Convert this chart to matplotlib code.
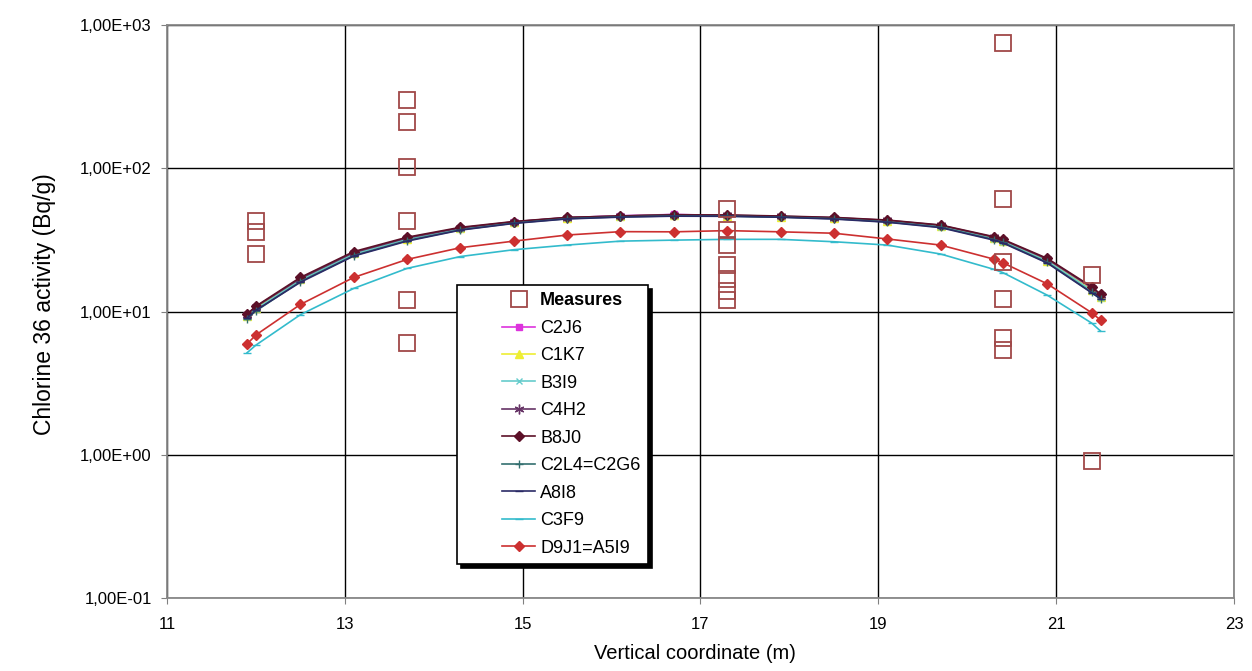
import numpy as np
import matplotlib
matplotlib.use("Agg")
import matplotlib.pyplot as plt
from matplotlib.lines import Line2D
from matplotlib.legend_handler import HandlerLine2D
from matplotlib.ticker import FixedLocator, FuncFormatter

plt.rcParams["font.family"] = ["Liberation Sans", "DejaVu Sans"]

# measured activities (Bq/g) at each vertical coordinate
meas_x = [12.0, 12.0, 12.0,
          13.7, 13.7, 13.7, 13.7, 13.7, 13.7,
          17.3, 17.3, 17.3, 17.3, 17.3, 17.3, 17.3,
          20.4, 20.4, 20.4, 20.4, 20.4, 20.4,
          21.4, 21.4]
meas_y = [42.8, 35.9, 25.2,
          299, 210, 102, 42.6, 12.0, 6.0,
          52, 37, 29, 21, 17, 14, 12,
          748, 60.7, 22.3, 12.2, 6.5, 5.4,
          18.0, 0.90]

# model calculations
x_model = [11.9, 12.0, 12.5, 13.1, 13.7, 14.3, 14.9, 15.5, 16.1, 16.7,
           17.3, 17.9, 18.5, 19.1, 19.7, 20.3, 20.4, 20.9, 21.4, 21.5]

C2J6 = [9.4, 10.7, 16.9, 25.6, 32.4, 38.2, 42.2, 45.2, 46.6, 47.6,
        46.8, 46.0, 45.0, 43.0, 39.6, 32.6, 31.2, 22.8, 14.4, 12.8]
C1K7 = [9.3, 10.6, 16.8, 25.5, 32.3, 38.0, 42.0, 45.0, 46.3, 47.3,
        46.6, 45.8, 44.8, 42.8, 39.4, 32.4, 31.0, 22.6, 14.2, 12.6]
B3I9 = [9.2, 10.4, 16.6, 25.2, 32.0, 37.8, 41.8, 44.8, 46.0, 46.8,
        46.5, 45.7, 44.8, 42.6, 39.2, 32.2, 30.8, 22.5, 14.0, 12.5]
C4H2 = [9.5, 10.8, 17.0, 25.8, 32.6, 38.3, 42.3, 45.3, 46.5, 47.5,
        47.0, 46.2, 45.2, 43.3, 40.0, 33.0, 31.6, 23.2, 14.7, 13.0]
B8J0 = [9.6, 10.9, 17.3, 26.2, 33.0, 38.7, 42.5, 45.4, 46.4, 47.2,
        47.2, 46.4, 45.4, 43.5, 40.2, 33.3, 31.9, 23.5, 14.9, 13.2]
C2L4 = [8.9, 10.1, 16.2, 24.6, 31.3, 37.2, 41.4, 44.5, 45.8, 46.5,
        46.3, 45.6, 44.5, 42.2, 38.8, 31.8, 30.4, 22.0, 13.6, 12.2]
A8I8 = [9.0, 10.2, 16.0, 24.4, 31.0, 37.0, 41.2, 44.3, 45.6, 46.3,
        46.2, 45.5, 44.2, 42.0, 38.5, 31.5, 30.1, 21.8, 13.5, 12.3]
C3F9 = [5.15, 5.83, 9.5, 14.5, 20.0, 24.2, 27.0, 29.1, 31.0, 31.5,
        31.9, 31.9, 30.7, 29.1, 25.2, 19.7, 18.7, 13.0, 8.3, 7.3]
D9J1 = [5.93, 6.86, 11.2, 17.3, 23.1, 27.9, 31.0, 34.2, 36.1, 36.0,
        36.7, 36.0, 35.2, 32.1, 29.1, 23.2, 21.9, 15.6, 9.8, 8.7]

x_ticks = [11, 13, 15, 17, 19, 21, 23]
y_ticks = [0.1, 1, 10, 100, 1000]


def sci_comma(v, pos):
    exp = int(np.round(np.log10(v)))
    sign = "+" if exp >= 0 else "-"
    return "1,00E%s%02d" % (sign, abs(exp))


fig = plt.figure(figsize=(12.52, 6.71), dpi=100)
ax = fig.add_axes([0.1334, 0.1088, 0.8522, 0.8539])

ax.plot(meas_x, meas_y, ls="none", marker="s", ms=12, mfc="none",
        mec="#a04848", mew=1.3, label="Measures", zorder=5)

series = [
    ("C2J6", C2J6, "#dd33dd", "s", 5),
    ("C1K7", C1K7, "#eeee33", "^", 6),
    ("B3I9", B3I9, "#66cccc", "x", 5),
    ("C4H2", C4H2, "#663366", (6, 2, 0), 7),
    ("B8J0", B8J0, "#5c1028", "D", 5.5),
    ("C2L4=C2G6", C2L4, "#336f6f", "+", 6),
    ("A8I8", A8I8, "#2a2a66", "_", 6),
    ("C3F9", C3F9, "#33bbcc", "_", 6),
    ("D9J1=A5I9", D9J1, "#cc3030", "D", 5.5),
]
for name, vals, col, mk, ms in series:
    ax.plot(x_model, vals, color=col, lw=1.2, marker=mk, ms=ms,
            mfc=col, mec=col, label=name, zorder=4)

ax.set_yscale("log")
ax.set_xlim(11, 23)
ax.set_ylim(0.1, 1000)
ax.xaxis.set_major_locator(FixedLocator(x_ticks))
ax.yaxis.set_major_locator(FixedLocator(y_ticks))
ax.yaxis.set_minor_locator(FixedLocator([]))
ax.yaxis.set_major_formatter(FuncFormatter(sci_comma))
ax.tick_params(labelsize=12, length=4, color="#808080", pad=7)
ax.tick_params(axis="x", pad=10)
ax.grid(True, color="black", lw=1.0, zorder=1)
ax.set_axisbelow(True)
for s in ax.spines.values():
    s.set_color("#888888")
    s.set_linewidth(1.3)

ax.set_xlabel("Vertical coordinate (m)", fontsize=14.5)
ax.set_ylabel("Chlorine 36 activity (Bq/g)", fontsize=16.5)
ax.xaxis.set_label_coords(0.495, -0.08)
ax.yaxis.set_label_coords(-0.104, 0.513)

leg = ax.legend(loc="upper left", bbox_to_anchor=(0.365, 0.575),
                bbox_transform=fig.transFigure, fontsize=13,
                labelspacing=0.58, handlelength=3.93, handletextpad=0.28,
                borderpad=0.4, fancybox=False, framealpha=1,
                edgecolor="black", borderaxespad=0,
                shadow={"ox": 3, "oy": -3, "shade": 1.0, "alpha": 1},
                handler_map={Line2D: HandlerLine2D(xpad=2.1)})
leg.get_frame().set_linewidth(1.2)
leg.get_texts()[0].set_fontweight("bold")
leg.set_zorder(10)

fig.savefig("out.png", dpi=100)
